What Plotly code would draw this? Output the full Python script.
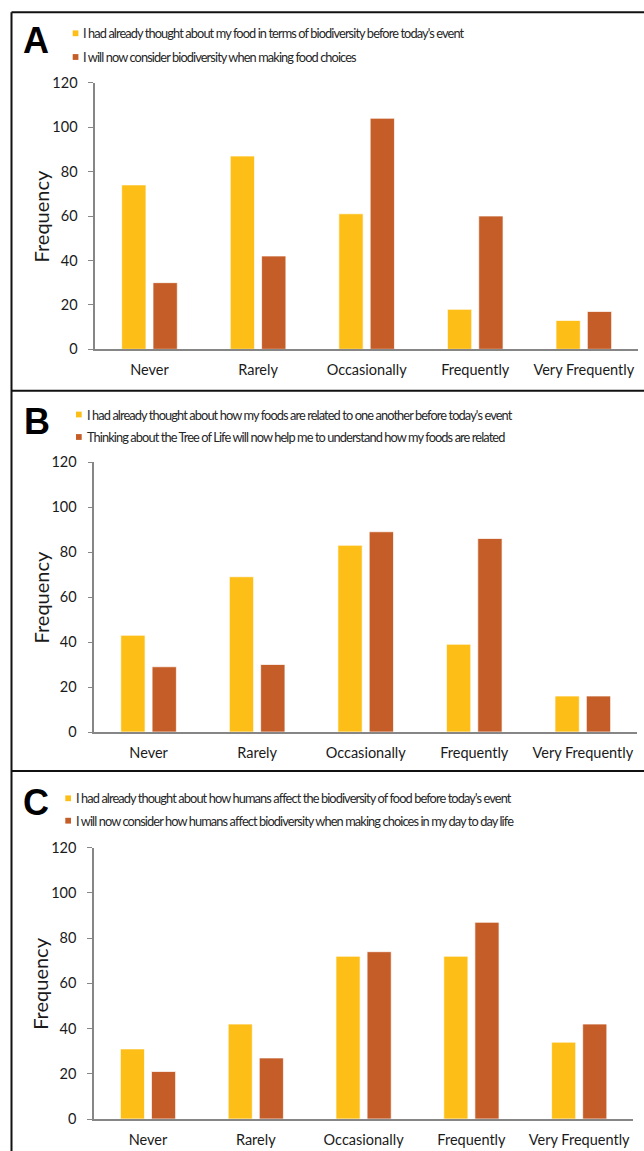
import plotly.graph_objects as go

W, H = 644, 1151

categories = ["Never", "Rarely", "Occasionally", "Frequently", "Very Frequently"]

a_before = [74, 87, 61, 18, 13]
a_after = [30, 42, 104, 60, 17]
b_before = [43, 69, 83, 39, 16]
b_after = [29, 30, 89, 86, 16]
c_before = [31, 42, 72, 72, 34]
c_after = [21, 27, 74, 87, 42]

a_names = ["I had already thought about my food in terms of biodiversity before today's event",
           "I will now consider biodiversity when making food choices"]
b_names = ["I had already thought about how my foods are related to one another before today's event",
           "Thinking about the Tree of Life will now help me to understand how my foods are related"]
c_names = ["I had already thought about how humans affect the biodiversity of food before today's event",
           "I will now consider how humans affect biodiversity when making choices in my day to day life"]

y_ticks = [0, 20, 40, 60, 80, 100, 120]
panel_labels = ["A", "B", "C"]

YELLOW = "#FDBF17"
ORANGE = "#C55D28"
AXIS_GREY = "#868686"
TICK_FONT = dict(family="Lato, 'Open Sans', sans-serif", size=14.5, color="#1a1a1a")
LEG_FONT = dict(family="Lato, 'DejaVu Sans Condensed', sans-serif", size=12.8, color="#262626")


def fx(p):
    return p / W


def fy(p):
    return 1 - p / H


# pixel layout of each panel: x-domain, y-domain (top=120, bottom=0), legend rows, letter
panels = [
    dict(x=(95.2, 638.1), y=(82.7, 349.3), leg_x=(72.7, 80.7), leg_y=(33.3, 57.0), letter=(21.0, 40.0),
         data=(a_before, a_after), names=a_names),
    dict(x=(94.3, 637.1), y=(462.0, 732.0), leg_x=(76.0, 85.0), leg_y=(414.5, 437.0), letter=(22.0, 421.3),
         data=(b_before, b_after), names=b_names),
    dict(x=(94.1, 633.1), y=(847.7, 1119.0), leg_x=(65.3, 74.0), leg_y=(798.3, 820.7), letter=(21.0, 802.0),
         data=(c_before, c_after), names=c_names),
]

fig = go.Figure()
annotations = []
shapes = []

for i, p in enumerate(panels):
    suffix = "" if i == 0 else str(i + 1)
    xa, ya = "x" + suffix, "y" + suffix
    for vals, col, nm in zip(p["data"], (YELLOW, ORANGE), p["names"]):
        fig.add_trace(go.Bar(x=categories, y=vals, name=nm,
                             marker=dict(color=col, line=dict(color="rgba(255,255,255,0.7)", width=1)),
                             xaxis=xa, yaxis=ya, showlegend=False))
    fig.layout["xaxis" + suffix] = dict(
        domain=[fx(p["x"][0]), fx(p["x"][1])], anchor=ya, showline=True, linecolor=AXIS_GREY, linewidth=1.5,
        ticks="", tickfont=TICK_FONT, ticklabelstandoff=7, showgrid=False, zeroline=False, fixedrange=True,
        automargin=False)
    fig.layout["yaxis" + suffix] = dict(
        domain=[fy(p["y"][1]), fy(p["y"][0])], anchor=xa, range=[0, 120], tickvals=y_ticks,
        showline=True, linecolor=AXIS_GREY, linewidth=1.5, ticks="outside", ticklen=5, tickcolor=AXIS_GREY,
        tickwidth=1.2, tickfont=TICK_FONT, ticklabelstandoff=8, showgrid=False, zeroline=False, fixedrange=True,
        automargin=False)
    # y axis title
    annotations.append(dict(text="Frequency", xref="paper", yref="paper", x=fx(40.5),
                            y=fy((p["y"][0] + p["y"][1]) / 2), textangle=-90, showarrow=False,
                            xanchor="center", yanchor="middle",
                            font=dict(family="Lato, 'Open Sans', sans-serif", size=20, color="#1a1a1a")))
    # panel letter
    annotations.append(dict(text="<b>%s</b>" % panel_labels[i], xref="paper", yref="paper", x=fx(p["letter"][0]),
                            y=fy(p["letter"][1]), showarrow=False, xanchor="left", yanchor="middle",
                            font=dict(family="'Liberation Sans', Arial, sans-serif", size=36, color="#000")))
    # legend
    for nm, col, ly in zip(p["names"], (YELLOW, ORANGE), p["leg_y"]):
        shapes.append(dict(type="rect", xref="paper", yref="paper", x0=fx(p["leg_x"][0]), x1=fx(p["leg_x"][0] + 5.7),
                           y0=fy(ly + 2.9), y1=fy(ly - 2.9), fillcolor=col, line=dict(width=0)))
        annotations.append(dict(text='<span style="letter-spacing:-0.9px">%s</span>' % nm, xref="paper", yref="paper",
                                x=fx(p["leg_x"][1]), y=fy(ly),
                                showarrow=False, xanchor="left", yanchor="middle", font=LEG_FONT))

# panel frames
frame = dict(color="#111", width=2)
shapes.append(dict(type="line", xref="paper", yref="paper", x0=fx(11.5), x1=1, y0=fy(12.3), y1=fy(12.3), line=frame))
shapes.append(dict(type="line", xref="paper", yref="paper", x0=fx(11.5), x1=fx(11.5), y0=fy(12.3), y1=0, line=frame))
shapes.append(dict(type="line", xref="paper", yref="paper", x0=fx(11.5), x1=1, y0=fy(390.8), y1=fy(390.8), line=frame))
shapes.append(dict(type="line", xref="paper", yref="paper", x0=fx(11.5), x1=1, y0=fy(771.0), y1=fy(771.0), line=frame))

fig.update_layout(
    width=W, height=H, margin=dict(l=0, r=0, t=0, b=0, autoexpand=False), autosize=False,
    paper_bgcolor="white", plot_bgcolor="white",
    barmode="group", bargap=0.423, bargroupgap=0.224,
    annotations=annotations, shapes=shapes, showlegend=False,
)

fig.write_html("out.html", config={"displayModeBar": False},
               post_script="document.body.style.margin='0';")
